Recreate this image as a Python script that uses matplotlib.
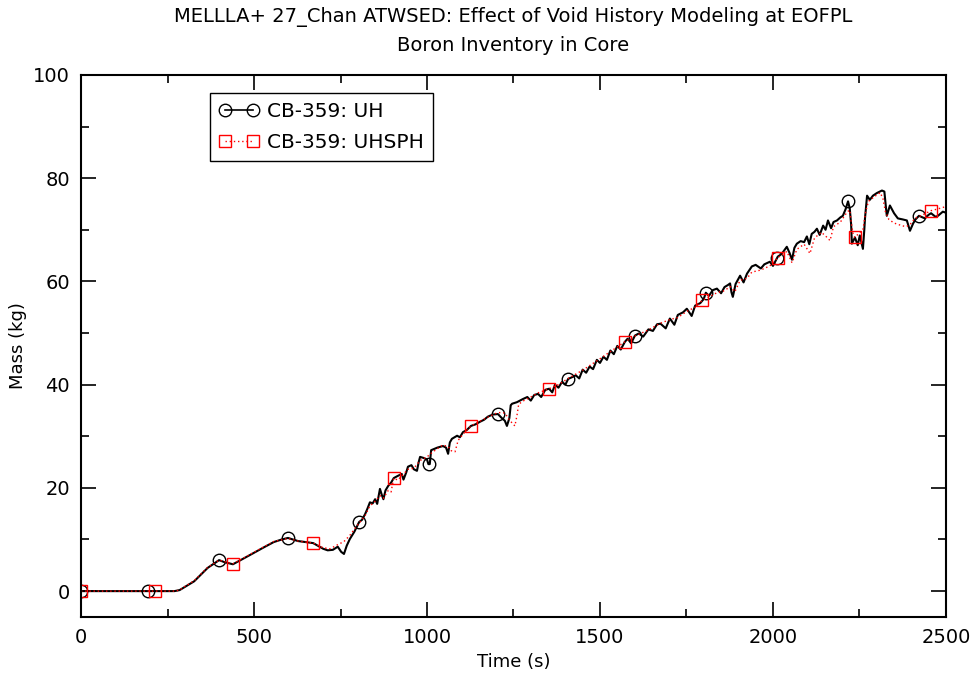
import numpy as np
import matplotlib
matplotlib.use('Agg')
import matplotlib.pyplot as plt
from matplotlib.lines import Line2D
from matplotlib.ticker import MultipleLocator

plt.rcParams['font.family'] = ['DejaVu Sans']

# CB-359: UH (black) - time (s) and boron mass (kg)
t_uh = [0, 100, 200, 270, 285, 300, 327, 366, 399, 415,
        439, 483, 529, 557, 580, 598, 627, 671, 700, 713,
        728, 742, 752, 760, 768, 777, 790, 804, 812, 821,
        828, 835, 843, 850, 856, 864, 870, 874, 880, 888,
        896, 904, 915, 927, 932, 940, 945, 955, 962, 971,
        976, 980, 990, 1000, 1004, 1008, 1012, 1030, 1046, 1055,
        1061, 1066, 1072, 1087, 1095, 1104, 1115, 1127, 1140, 1153,
        1165, 1176, 1190, 1205, 1215, 1225, 1231, 1238, 1242, 1246,
        1260, 1277, 1290, 1300, 1310, 1321, 1330, 1342, 1353, 1362,
        1370, 1380, 1390, 1400, 1408, 1418, 1430, 1440, 1450, 1460,
        1470, 1480, 1491, 1500, 1510, 1520, 1530, 1540, 1550, 1560,
        1572, 1580, 1590, 1601, 1612, 1625, 1640, 1653, 1665, 1675,
        1690, 1702, 1715, 1725, 1740, 1751, 1765, 1775, 1790, 1800,
        1806, 1815, 1826, 1838, 1850, 1860, 1870, 1876, 1880, 1884,
        1892, 1905, 1915, 1925, 1939, 1950, 1965, 1975, 1991, 2000,
        2014, 2025, 2040, 2048, 2055, 2062, 2069, 2080, 2090, 2098,
        2105, 2112, 2120, 2127, 2135, 2145, 2152, 2159, 2168, 2175,
        2185, 2195, 2202, 2210, 2217, 2222, 2226, 2228, 2237, 2245,
        2251, 2256, 2260, 2264, 2266, 2272, 2280, 2289, 2300, 2315,
        2322, 2329, 2338, 2350, 2361, 2375, 2387, 2396, 2405, 2412,
        2422, 2439, 2450, 2457, 2470, 2477, 2491, 2500]
m_uh = [0.0, 0.0, 0.0, 0.0, 0.2, 0.8, 1.9, 4.5, 6.0, 5.6,
        5.2, 6.8, 8.5, 9.5, 10.0, 10.3, 9.7, 9.3, 8.2, 7.9,
        8.0, 8.6, 7.6, 7.2, 8.8, 10.1, 11.5, 13.4, 13.8, 14.9,
        16.0, 17.2, 17.0, 17.8, 16.9, 19.8, 18.5, 17.8, 19.5, 20.4,
        21.0, 21.9, 22.3, 22.7, 21.6, 23.0, 24.1, 24.4, 23.6, 23.3,
        25.0, 26.0, 25.8, 25.5, 24.6, 24.6, 27.3, 27.8, 28.1, 27.8,
        26.6, 28.8, 29.5, 30.1, 29.8, 30.8, 31.2, 32.0, 32.3, 32.8,
        33.2, 33.8, 34.2, 34.3, 33.6, 33.0, 32.0, 33.5, 36.0, 36.3,
        36.6, 37.2, 37.6, 36.9, 38.0, 38.2, 37.6, 39.0, 39.2, 38.5,
        40.0, 39.4, 40.5, 40.0, 41.1, 41.4, 41.8, 41.2, 42.9, 42.3,
        43.5, 43.0, 44.8, 44.2, 45.4, 44.8, 46.6, 45.9, 47.5, 46.8,
        48.3, 48.9, 48.0, 49.5, 49.9, 49.3, 50.7, 50.4, 51.7, 51.8,
        50.9, 52.8, 51.6, 53.5, 54.0, 54.7, 53.3, 55.3, 55.8, 56.6,
        57.8, 57.2, 58.3, 58.6, 57.7, 58.9, 59.3, 59.6, 57.9, 57.0,
        59.5, 61.1, 59.8, 61.5, 62.9, 63.2, 62.5, 63.3, 63.8, 63.0,
        64.8, 65.3, 66.7, 65.5, 64.2, 66.5, 67.3, 67.8, 67.6, 68.7,
        67.2, 69.2, 69.6, 70.2, 69.0, 70.8, 70.0, 71.8, 70.3, 71.5,
        71.8, 72.4, 72.7, 74.0, 75.5, 74.1, 71.0, 67.3, 68.5, 67.0,
        68.9, 67.5, 66.3, 70.0, 72.2, 76.6, 75.8, 76.6, 77.1, 77.6,
        77.4, 72.7, 74.7, 73.2, 72.2, 72.0, 71.8, 69.8, 71.2, 72.0,
        72.7, 72.2, 72.9, 73.2, 72.5, 72.7, 73.5, 73.3]

# CB-359: UHSPH (red dotted)
t_sph = [0, 100, 210, 270, 285, 300, 327, 366, 399, 415,
         439, 483, 529, 557, 598, 627, 671, 700, 720, 742,
         760, 777, 790, 804, 821, 835, 850, 864, 874, 888,
         896, 904, 915, 927, 945, 962, 980, 1000, 1014, 1030,
         1046, 1061, 1070, 1081, 1090, 1104, 1127, 1153, 1176, 1205,
         1225, 1240, 1254, 1260, 1265, 1277, 1300, 1321, 1353, 1380,
         1408, 1450, 1491, 1530, 1572, 1601, 1640, 1675, 1702, 1725,
         1751, 1775, 1795, 1815, 1838, 1860, 1876, 1890, 1905, 1925,
         1939, 1965, 1991, 2014, 2040, 2055, 2069, 2090, 2107, 2120,
         2140, 2152, 2165, 2175, 2195, 2215, 2222, 2226, 2232, 2237,
         2248, 2260, 2268, 2276, 2295, 2310, 2318, 2325, 2335, 2350,
         2372, 2385, 2396, 2410, 2430, 2457, 2475, 2500]
m_sph = [0.0, 0.0, 0.0, 0.0, 0.2, 0.9, 2.0, 4.6, 6.0, 5.7,
         5.3, 6.9, 8.6, 9.6, 10.2, 9.7, 9.3, 8.4, 8.2, 9.0,
         9.6, 10.8, 12.0, 13.2, 14.6, 16.5, 17.4, 18.5, 18.0, 19.5,
         19.2, 21.9, 21.5, 22.3, 23.6, 23.8, 25.3, 26.0, 26.8, 27.6,
         28.3, 28.0, 27.2, 27.0, 29.2, 30.4, 32.0, 32.9, 33.7, 34.6,
         34.5, 33.0, 32.0, 34.0, 36.2, 36.8, 37.6, 38.4, 39.2, 40.0,
         41.2, 42.8, 44.6, 46.4, 48.3, 49.4, 50.6, 51.9, 52.6, 53.0,
         54.2, 55.0, 56.3, 57.0, 57.8, 58.2, 59.0, 58.0, 60.2, 60.6,
         61.8, 62.2, 63.0, 64.6, 65.8, 63.6, 66.2, 67.2, 65.4, 68.4,
         69.5, 68.8, 67.9, 70.6, 71.5, 73.5, 73.8, 71.5, 69.0, 68.5,
         69.3, 70.0, 73.5, 75.5, 76.5, 77.2, 76.0, 73.5, 72.0, 71.3,
         70.8, 70.6, 71.0, 72.2, 72.8, 73.7, 74.0, 74.5]

# marker locations (s)
circle_t = [0, 193, 399, 598, 804, 1006, 1205, 1408, 1601, 1806, 2012, 2217, 2422]
square_t = [0, 214, 439, 671, 904, 1127, 1353, 1572, 1795, 2014, 2237, 2457]

fig = plt.figure(figsize=(9.74, 6.87), dpi=100)
ax = fig.add_axes([0.0832, 0.102, 0.888, 0.789])

ax.plot(t_uh, m_uh, color='black', lw=1.5)
ax.plot(circle_t, np.interp(circle_t, t_uh, m_uh), ls='none', marker='o',
        ms=9, mfc='none', mec='black', mew=1.0)
ax.plot(t_sph, m_sph, color='red', lw=1.0, ls=(0, (1, 2)))
ax.plot(square_t, np.interp(square_t, t_sph, m_sph), ls='none', marker='s',
        ms=8, mfc='none', mec='red', mew=1.0)

ax.set_xlim(0, 2500)
ax.set_ylim(-5, 100)
ax.xaxis.set_major_locator(MultipleLocator(500))
ax.xaxis.set_minor_locator(MultipleLocator(250))
ax.yaxis.set_major_locator(MultipleLocator(20))
ax.yaxis.set_minor_locator(MultipleLocator(10))
ax.tick_params(which='both', direction='in', top=True, right=True,
               labelsize=14, width=1.2, pad=8)
ax.tick_params(which='major', length=11)
ax.tick_params(which='minor', length=6)
for sp in ax.spines.values():
    sp.set_linewidth(1.5)

ax.set_xlabel('Time (s)', fontsize=13)
ax.set_ylabel('Mass (kg)', fontsize=13)

fig.text(0.527, 0.975, 'MELLLA+ 27_Chan ATWSED: Effect of Void History Modeling at EOFPL',
         ha='center', va='center', fontsize=14)
fig.text(0.527, 0.934, 'Boron Inventory in Core', ha='center', va='center', fontsize=14)

handles = [
    Line2D([], [], color='black', lw=1.2, marker='o', ms=9, mfc='none', mec='black'),
    Line2D([], [], color='red', lw=1.0, ls=(0, (1, 2)), marker='s', ms=8, mfc='none', mec='red'),
]
leg = ax.legend(handles, ['CB-359: UH', 'CB-359: UHSPH'], loc='upper left',
                bbox_to_anchor=(0.149, 0.967), borderaxespad=0, numpoints=2,
                fontsize=14.5, fancybox=False, framealpha=1, edgecolor='black',
                handlelength=2.0, handletextpad=0.4, borderpad=0.45, labelspacing=0.6)
leg.get_frame().set_linewidth(1.0)

fig.savefig('out.png', dpi=100)
